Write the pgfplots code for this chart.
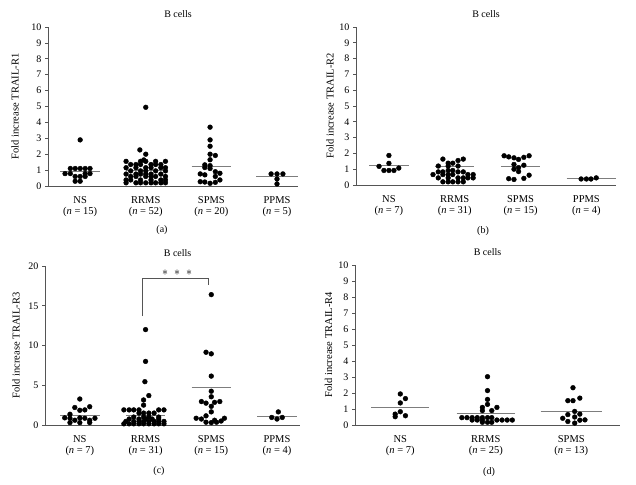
\documentclass[border=0pt]{standalone}
\usepackage{fontspec}
\setmainfont{Liberation Serif}
\usepackage{pgfplots}
\pgfplotsset{compat=1.18}
\definecolor{axgray}{RGB}{85,85,85}
\definecolor{meangray}{RGB}{125,125,125}
\pgfplotsset{
  panel/.style={scale only axis, axis x line=bottom, axis y line=left,
    axis line style={-, draw=axgray, line width=0.8pt}, ymin=0,
    xtick style={draw=none}, ytick style={draw=axgray, line width=0.6pt},
    tick align=outside, major tick length=3pt,
    tick label style={font=\fontsize{10}{11}\selectfont},
    /pgf/number format/assume math mode=true,
    xticklabel style={align=center, font=\fontsize{10.5}{11}\selectfont, yshift=-4pt},
    label style={font=\fontsize{10.5}{12}\selectfont},
    title style={font=\fontsize{10}{12}\selectfont, anchor=center, yshift=7pt},
    clip=false, anchor=south west},
  pts/.style={only marks, mark=*, mark size=2.4pt, black},
  mean/.style={no marks, meangray, line width=0.9pt},
}
\begin{document}
\begin{tikzpicture}
\useasboundingbox (0pt,0pt) rectangle (636pt,484pt);

% ---------------- (a) ----------------
\begin{axis}[panel, at={(48pt,298pt)}, width=250pt, height=159pt,
  xmin=-0.49, xmax=3.32, ymax=10, ytick={0,1,...,10},
  xtick={0,1,2,3},
  xticklabels={{NS\\(\textit{n} = 15)},{RRMS\\(\textit{n} = 52)},{SPMS\\(\textit{n} = 20)},{PPMS\\(\textit{n} = 5)}},
  ylabel={Fold increase TRAIL-R1},
  ylabel style={at={(axis description cs:-0.132,0.5)}, anchor=center},
  title={B cells}, title style={at={(axis description cs:0.52,1)}}]
\addplot[pts] coordinates {(0,2.9) (-0.15,1.1) (-0.076,1.1) (0,1.1) (0.076,1.1) (0.15,1.1)
 (-0.23,0.78) (-0.15,0.78) (0.076,0.78) (0.15,0.78) (-0.076,0.6) (0,0.6) (0.076,0.6) (-0.076,0.3) (0,0.3)};
\addplot[pts] coordinates {(1,4.95) (0.91,2.27) (1,2.0) (0.97,1.64)
 (0.7,1.55) (0.92,1.55) (1,1.55) (1.15,1.55) (1.3,1.55)
 (0.77,1.35) (0.85,1.35) (0.92,1.35) (1.08,1.35) (1.15,1.35) (1.23,1.35)
 (0.7,1.15) (0.85,1.15) (1,1.15) (1.08,1.15) (1.23,1.15) (1.3,1.15)
 (0.77,0.95) (0.92,0.95) (1,0.95) (1.15,0.95) (1.3,0.95)
 (0.7,0.75) (0.85,0.75) (0.92,0.75) (1,0.75) (1.08,0.75) (1.23,0.75)
 (0.77,0.6) (0.85,0.6) (1,0.6) (1.08,0.6) (1.15,0.6) (1.3,0.6)
 (0.7,0.38) (0.77,0.38) (0.92,0.38) (1.08,0.38) (1.23,0.38) (1.3,0.38)
 (0.7,0.2) (0.85,0.2) (0.92,0.2) (1,0.2) (1.08,0.2) (1.15,0.2) (1.23,0.2) (1.3,0.2)};
\addplot[pts] coordinates {(1.98,3.7) (1.98,2.9) (1.98,2.5) (1.98,2.0) (2.06,1.92) (1.98,1.65)
 (1.9,1.33) (1.98,1.28) (1.9,1.16) (1.98,1.1)
 (1.83,0.76) (1.9,0.7) (2.06,0.9) (2.13,0.8) (2.06,0.6)
 (1.9,0.25) (1.98,0.17) (2.06,0.23) (2.13,0.38) (1.83,0.27)};
\addplot[pts] coordinates {(2.91,0.76) (3,0.76) (3.09,0.76) (3,0.44) (3,0.13)};
\addplot[mean] coordinates {(-0.3,0.92) (0.3,0.92)};
\addplot[mean] coordinates {(0.7,1.0) (1.3,1.0)};
\addplot[mean] coordinates {(1.7,1.26) (2.3,1.26)};
\addplot[mean] coordinates {(2.68,0.57) (3.32,0.57)};
\end{axis}

% ---------------- (b) ----------------
\begin{axis}[panel, at={(356pt,299pt)}, width=260pt, height=158pt,
  xmin=-0.50, xmax=3.45, ymax=10, ytick={0,1,...,10},
  xtick={0,1,2,3},
  xticklabels={{NS\\(\textit{n} = 7)},{RRMS\\(\textit{n} = 31)},{SPMS\\(\textit{n} = 15)},{PPMS\\(\textit{n} = 4)}},
  ylabel={Fold increase TRAIL-R2},
  ylabel style={at={(axis description cs:-0.10,0.5)}, anchor=center},
  title={B cells}, title style={at={(axis description cs:0.5,1)}}]
\addplot[pts] coordinates {(0,1.87) (0,1.37) (-0.15,1.18) (-0.076,0.92) (0,0.92) (0.076,0.92) (0.15,1.07)};
\addplot[pts] coordinates {(0.82,1.64) (1.13,1.64) (1.05,1.55) (0.9,1.38) (0.97,1.38)
 (0.75,1.2) (0.9,1.2) (1.05,1.2) (0.9,0.92) (0.97,0.92)
 (0.75,0.83) (0.82,0.83) (1.05,0.83) (1.13,0.83)
 (0.67,0.66) (0.82,0.66) (0.9,0.66) (0.97,0.66) (1.2,0.66) (1.28,0.66)
 (0.75,0.45) (0.9,0.45) (1.05,0.45) (1.13,0.45) (1.2,0.45) (1.28,0.45)
 (0.82,0.2) (0.9,0.2) (0.97,0.2) (1.05,0.2) (1.13,0.2)};
\addplot[pts] coordinates {(1.75,1.85) (1.82,1.78) (1.9,1.72) (1.97,1.62) (2.05,1.75) (2.13,1.85)
 (1.9,1.3) (2.05,1.25) (1.97,1.1) (1.9,1.0) (1.97,0.85) (2.13,0.62)
 (1.82,0.4) (1.9,0.35) (2.05,0.42)};
\addplot[pts] coordinates {(2.92,0.38) (3,0.38) (3.07,0.38) (3.15,0.45)};
\addplot[mean] coordinates {(-0.3,1.22) (0.3,1.22)};
\addplot[mean] coordinates {(0.7,1.15) (1.3,1.15)};
\addplot[mean] coordinates {(1.7,1.15) (2.3,1.15)};
\addplot[mean] coordinates {(2.7,0.4) (3.45,0.4)};
\end{axis}

% ---------------- (c) ----------------
\begin{axis}[panel, at={(45pt,59pt)}, width=255pt, height=159pt,
  xmin=-0.53, xmax=3.35, ymax=20, ytick={0,5,...,20},
  xtick={0,1,2,3},
  xticklabels={{NS\\(\textit{n} = 7)},{RRMS\\(\textit{n} = 31)},{SPMS\\(\textit{n} = 15)},{PPMS\\(\textit{n} = 4)}},
  ylabel={Fold increase TRAIL-R3},
  ylabel style={at={(axis description cs:-0.114,0.5)}, anchor=center},
  title={B cells}, title style={at={(axis description cs:0.52,1)}}]
\addplot[pts] coordinates {(0,3.27) (-0.076,2.2) (0.15,2.3) (0,1.85) (0.076,1.9) (-0.15,1.35)
 (-0.23,0.9) (-0.15,0.85) (0,0.9) (0.076,0.85) (0.23,0.85) (-0.076,0.6) (0.15,0.6)
 (-0.15,0.3) (0,0.3) (0.15,0.3)};
\addplot[pts] coordinates {(1,12.0) (1,8.0) (0.99,5.45) (1.05,3.7) (0.97,3.15) (0.97,2.5)
 (0.67,1.9) (0.75,1.9) (0.82,1.9) (0.9,1.9) (1.2,1.9) (1.28,1.9)
 (0.9,1.5) (0.97,1.5) (1.05,1.5) (1.13,1.5)
 (0.82,1.0) (0.97,1.0) (1.05,1.0) (1.2,1.0)
 (0.75,0.75) (0.9,0.75) (1,0.75) (1.1,0.75) (1.2,0.75)
 (0.7,0.45) (0.82,0.45) (0.9,0.45) (0.97,0.45) (1.05,0.45) (1.13,0.45) (1.2,0.45) (1.28,0.45)
 (0.67,0.15) (0.75,0.15) (0.82,0.15) (0.9,0.15) (0.97,0.15) (1.05,0.15) (1.13,0.15) (1.2,0.15) (1.28,0.15)};
\addplot[pts] coordinates {(2,16.4) (1.92,9.15) (2,8.95) (2,6.15) (2,4.25) (2,3.55)
 (1.85,2.95) (1.92,2.75) (2.05,2.85) (2.13,2.95) (2,2.35) (2,1.65) (1.92,1.15)
 (1.77,0.85) (1.85,0.75) (2.05,0.6) (2.2,0.85) (1.92,0.35) (2,0.3) (2.08,0.35) (2.15,0.5)};
\addplot[pts] coordinates {(3.02,1.65) (2.92,0.95) (3.08,0.95) (3,0.75)};
\addplot[mean] coordinates {(-0.3,1.22) (0.3,1.22)};
\addplot[mean] coordinates {(0.7,1.22) (1.3,1.22)};
\addplot[mean] coordinates {(1.7,4.75) (2.3,4.75)};
\addplot[mean] coordinates {(2.7,1.09) (3.3,1.09)};
\draw[axgray, line width=0.7pt] (axis cs:0.95,13.7) -- (axis cs:0.95,18.5) -- (axis cs:1.95,18.5) -- (axis cs:1.95,17.6);
\node[font=\fontsize{13}{14}\selectfont, text=black, inner sep=0pt] at (axis cs:1.48,19.15) {$\ast\;\ast\;\ast$};
\end{axis}

% ---------------- (d) ----------------
\begin{axis}[panel, at={(355pt,59pt)}, width=265pt, height=160pt,
  xmin=-0.53, xmax=2.57, ymax=10, ytick={0,1,...,10},
  xtick={0,1,2},
  xticklabels={{NS\\(\textit{n} = 7)},{RRMS\\(\textit{n} = 25)},{SPMS\\(\textit{n} = 13)}},
  ylabel={Fold increase TRAIL-R4},
  ylabel style={at={(axis description cs:-0.10,0.5)}, anchor=center},
  title={B cells}, title style={at={(axis description cs:0.5,1)}}]
\addplot[pts] coordinates {(0,1.94) (0.06,1.65) (0,1.38) (0,0.83) (-0.06,0.68) (0.06,0.58) (-0.06,0.52)};
\addplot[pts] coordinates {(1.02,3.02) (1.02,2.15) (1.02,1.6) (1.02,1.29) (0.96,1.1) (1.13,1.1) (0.96,0.9) (1.07,0.9)
 (0.72,0.46) (0.78,0.46) (0.84,0.46) (0.9,0.46) (0.96,0.46) (1.02,0.46) (1.07,0.46)
 (0.84,0.31) (0.9,0.31) (0.96,0.31) (1.13,0.31) (1.19,0.31) (1.25,0.31) (1.31,0.31)
 (0.96,0.17) (1.02,0.17) (1.07,0.17)};
\addplot[pts] coordinates {(2.02,2.33) (1.96,1.52) (2.02,1.52) (2.1,1.68) (2.04,0.85) (1.96,0.65) (2.1,0.68)
 (1.9,0.42) (2.04,0.5) (2.16,0.32) (1.96,0.22) (2.1,0.3) (2.04,0.12)};
\addplot[mean] coordinates {(-0.34,1.08) (0.34,1.08)};
\addplot[mean] coordinates {(0.66,0.73) (1.34,0.73)};
\addplot[mean] coordinates {(1.64,0.85) (2.36,0.85)};
\end{axis}

\node[font=\fontsize{10}{12}\selectfont] at (162pt,254pt) {(a)};
\node[font=\fontsize{10}{12}\selectfont] at (483pt,253pt) {(b)};
\node[font=\fontsize{10}{12}\selectfont] at (159pt,13pt) {(c)};
\node[font=\fontsize{10}{12}\selectfont] at (489pt,12pt) {(d)};
\end{tikzpicture}
\end{document}
